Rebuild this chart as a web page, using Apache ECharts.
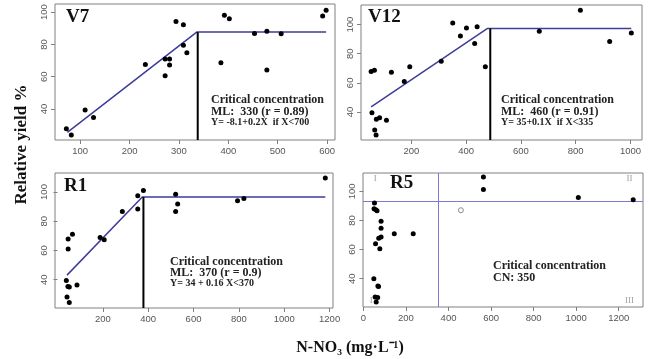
<!DOCTYPE html>
<html>
<head>
<meta charset="utf-8">
<script src="https://cdn.jsdelivr.net/npm/echarts@6/dist/echarts.min.js"></script>
<style>html,body{margin:0;padding:0;background:#fff}#c{width:650px;height:359px}</style>
</head>
<body>
<div id="c"></div>
<script>
// ---------- data ----------
const v7Points = [[72,27.8],[82,23.9],[110,39.3],[127,34.8],[232,67.6],[272,60.6],[272,70.9],[281,70.9],[281,67.2],[294,94.2],[309,92.2],[309,79.4],[316,74.8],[385,68.6],[392,98.1],[402,95.9],[453,86.8],[478,88.2],[478,64.1],[507,86.6],[591,97.5],[598,101.2]];
const v7Fit = [[74,25.5],[336,87.6],[598,87.6]];
const v7Critical = 338;

const v12Points = [[53,67.8],[65,68.7],[56,39.5],[66,27.6],[71,24.2],[72,35.1],[84,36],[109,34.4],[127,67.3],[174,61],[194,71],[309,74.9],[351,101.1],[379,92.2],[401,97.7],[431,87],[440,98.4],[470,71],[667,95.4],[817,109.8],[924,88.4],[1003,94.2]];
const v12Fit = [[53,43.6],[478,97.3],[1003,97.3]];
const v12Critical = 488;

const r1Points = [[39,39.5],[42,28.1],[46,35.3],[52,34.9],[52,24.4],[47,61],[47,67.8],[66,71],[86,36.3],[188,68.9],[206,67.3],[286,86.7],[354,97.5],[354,88.4],[379,101.1],[521,98.4],[530,91.8],[521,86.7],[794,94],[822,95.6],[1181,109.6]];
const r1Fit = [[42,43.1],[374,96.6],[1181,96.6]];
const r1Critical = 379;

const r5Points = [[52,92],[50,88.1],[58,87.4],[64,86.6],[83,79.4],[83,74.6],[83,68.6],[72,67.7],[57,64],[77,60.6],[145,70.9],[234,70.9],[49,40],[68,35],[71,34.6],[55,27.4],[67,27],[60,24],[564,109.8],[564,101.2],[1010,95.7],[1268,94.3]];
const r5Open = [[458,87]];
const r5Critical = 350;
const r5Plateau = 93;
const r5Quadrants = [[56,109,'I'],[1250,109,'II'],[1250,25,'III'],[52,25,'IV']];

const ticksV7X = [100,200,300,400,500,600];
const ticksV12X = [200,400,600,800,1000];
const ticksR1X = [200,400,600,800,1000,1200];
const ticksR5X = [0,200,400,600,800,1000,1200];
const ticksY = [40,60,80,100];

const rangesX = [[49,616],[16,1042],[-11,1215],[-2,1314]];
const rangesY = [[20.8,105],[20.8,113.4],[20.6,113],[20.5,112.6]];

const panelTitles = ['V7','V12','R1','R5'];
const notes = [
  ['Critical concentration','ML:  330 (r = 0.89)','Y= -8.1+0.2X  if X<700'],
  ['Critical concentration','ML:  460 (r = 0.91)','Y= 35+0.1X  if X<335'],
  ['Critical concentration','ML:  370 (r = 0.9)','Y= 34 + 0.16 X<370'],
  ['Critical concentration','CN: 350']
];
const yTitle = 'Relative yield %';
const xTitle = 'N-NO\u2083 (mg\u00B7L\u207B\u00B9)';

// ---------- layout ----------
const grids = [
  {left:55, top:4, width:280, height:136},
  {left:361, top:5, width:281, height:135},
  {left:55, top:173, width:278, height:135},
  {left:363, top:173, width:280, height:134}
];
const titlePos = [[66,8],[368,8],[64,177],[390,173.5]];
const notePos = [[211,94],[501,94],[170,255.5],[493,260]];

const serif = '"Liberation Serif","Times New Roman",serif';
const sans = '"Liberation Sans",Arial,sans-serif';
const boxColor = '#808080';
const fitColor = '#3d3d9a';

const xTicks = [ticksV7X, ticksV12X, ticksR1X, ticksR5X];

const xAxes = grids.map((g,i)=>({
  type:'value', gridIndex:i, min:rangesX[i][0], max:rangesX[i][1],
  axisLine:{show:false}, splitLine:{show:false},
  axisTick:{show:true, length:4, customValues:xTicks[i], lineStyle:{color:boxColor}},
  axisLabel:{show:true, customValues:xTicks[i], margin:6, fontSize:9.5, color:'#555', fontFamily:sans,
    formatter:v=>String(v)}
}));
const yAxes = grids.map((g,i)=>({
  type:'value', gridIndex:i, min:rangesY[i][0], max:rangesY[i][1],
  axisLine:{show:false}, splitLine:{show:false},
  axisTick:{show:true, length:4, customValues:ticksY, lineStyle:{color:boxColor}},
  axisLabel:{show:true, customValues:ticksY, rotate:90, margin:6, fontSize:9.5, color:'#555', fontFamily:sans,
    formatter:v=>String(v)}
}));

function dots(i, data){
  return {type:'scatter', xAxisIndex:i, yAxisIndex:i, data:data, symbolSize:5,
    itemStyle:{color:'#000', opacity:1}, silent:true, z:5};
}
function fit(i, data){
  return {type:'line', xAxisIndex:i, yAxisIndex:i, data:data, symbol:'none',
    lineStyle:{color:fitColor, width:1.5}, silent:true, z:3};
}
function crit(i, x, yTop){
  return {type:'line', xAxisIndex:i, yAxisIndex:i, data:[[x,yTop],[x,rangesY[i][0]]], symbol:'none',
    lineStyle:{color:'#000', width:2}, silent:true, z:4};
}

const series = [
  dots(0,v7Points), fit(0,v7Fit), crit(0,v7Critical,v7Fit[1][1]),
  dots(1,v12Points), fit(1,v12Fit), crit(1,v12Critical,v12Fit[1][1]),
  dots(2,r1Points), fit(2,r1Fit), crit(2,r1Critical,r1Fit[1][1]),
  dots(3,r5Points),
  {type:'scatter', xAxisIndex:3, yAxisIndex:3, data:r5Open, symbolSize:5,
    itemStyle:{color:'#fff', borderColor:'#888', borderWidth:1, opacity:1}, silent:true},
  {type:'line', xAxisIndex:3, yAxisIndex:3, data:[], silent:true,
    markLine:{silent:true, symbol:'none', label:{show:false},
      lineStyle:{color:'#7a7ad0', width:1, type:'solid'},
      data:[{xAxis:r5Critical},{yAxis:r5Plateau}]}},
  {type:'scatter', xAxisIndex:3, yAxisIndex:3, symbolSize:0, silent:true,
    data:r5Quadrants.map(q=>({value:[q[0],q[1]], name:q[2]})),
    label:{show:true, position:'inside', formatter:p=>p.name, color:'#888', fontSize:9, fontFamily:serif}}
];

const graphic = [];
grids.forEach((g,i)=>{
  graphic.push({type:'text', left:titlePos[i][0], top:titlePos[i][1],
    style:{text:panelTitles[i], font:'bold 19px '+serif, fill:'#111'}});
  notes[i].forEach((t,k)=>{
    const small = k===2;
    graphic.push({type:'text', left:notePos[i][0], top:notePos[i][1]+k*11.5,
      style:{text:t, font:'bold '+(small?'10px ':'12px ')+serif, fill:'#222'}});
  });
});
graphic.push({type:'text', x:22, y:144.5, rotation:Math.PI/2,
  style:{text:yTitle, font:'bold 17px '+serif, fill:'#111', align:'center', verticalAlign:'middle'}});
graphic.push({type:'text', x:350, y:348,
  style:{text:xTitle, font:'bold 16px '+serif, fill:'#111', align:'center', verticalAlign:'middle'}});

const chart = echarts.init(document.getElementById('c'), null, {renderer:'canvas'});
chart.setOption({
  animation:false,
  grid: grids.map(g=>Object.assign({show:true, borderColor:boxColor, borderWidth:1, backgroundColor:'transparent'}, g)),
  xAxis:xAxes, yAxis:yAxes, series:series, graphic:graphic
});
</script>
</body>
</html>
